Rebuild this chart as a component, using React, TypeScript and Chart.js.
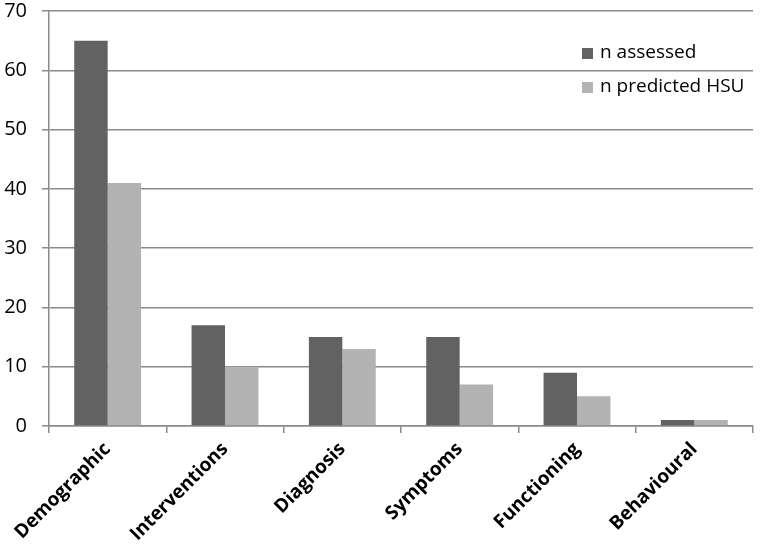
import React, { useEffect, useRef } from "react";
import { Chart, registerables } from "chart.js";

Chart.register(...registerables);

const categories = ["Demographic", "Interventions", "Diagnosis", "Symptoms", "Functioning", "Behavioural"];
const nAssessed = [65, 17, 15, 15, 9, 1];
const nPredicted = [41, 10, 13, 7, 5, 1];
const seriesNames = ["n assessed", "n predicted HSU"];
const yTicks = [0, 10, 20, 30, 40, 50, 60, 70];

const DARK = "#626262";
const LIGHT = "#b3b3b3";
const GRID = "#8a8a8a";
const FONT = "'Open Sans', 'DejaVu Sans', sans-serif";

const insideLegend = {
  id: "insideLegend",
  afterDraw(chart: any) {
    const ctx = chart.ctx;
    const area = chart.chartArea;
    const x = area.right - 171;
    const ys = [area.top + 42, area.top + 76];
    ctx.save();
    chart.data.datasets.forEach((ds: any, i: number) => {
      ctx.fillStyle = ds.backgroundColor;
      ctx.fillRect(x, ys[i] - 5, 11, 11);
      ctx.fillStyle = "#000";
      ctx.font = `19px ${FONT}`;
      ctx.textBaseline = "middle";
      ctx.textAlign = "left";
      ctx.fillText(ds.label, x + 18, ys[i]);
    });
    ctx.restore();
  },
};

export default function App() {
  const ref = useRef<HTMLCanvasElement>(null);
  useEffect(() => {
    document.body.style.margin = "0";
    const chart = new Chart(ref.current!, {
      type: "bar",
      data: {
        labels: categories,
        datasets: [
          { label: seriesNames[0], data: nAssessed, backgroundColor: DARK, barPercentage: 1, categoryPercentage: 0.57 },
          { label: seriesNames[1], data: nPredicted, backgroundColor: LIGHT, barPercentage: 1, categoryPercentage: 0.57 },
        ],
      },
      options: {
        animation: false,
        responsive: false,
        layout: { padding: { left: 4, right: 7, top: 11, bottom: 0 } },
        plugins: { legend: { display: false }, tooltip: { enabled: false } },
        scales: {
          x: {
            afterFit: (scale: any) => {
              scale.paddingLeft = 0;
              scale.paddingRight = 0;
              scale.height = 120;
            },
            grid: { display: true, drawOnChartArea: false, drawTicks: true, tickLength: 7, color: GRID, lineWidth: 1.5 },
            border: { display: true, color: GRID, width: 1.5 },
            ticks: {
              color: "#000",
              font: { family: FONT, size: 19, weight: "bold" },
              minRotation: 45,
              maxRotation: 45,
              padding: 5,
            },
          },
          y: {
            min: 0,
            max: 70,
            afterBuildTicks: (axis: any) => {
              axis.ticks = yTicks.map((v) => ({ value: v }));
            },
            afterFit: (scale: any) => {
              scale.paddingTop = 0;
              scale.paddingBottom = 0;
              scale.width = 45;
            },
            grid: { color: GRID, lineWidth: 1.5, tickLength: 7 },
            border: { display: true, color: GRID, width: 1.5 },
            ticks: { color: "#000", font: { family: FONT, size: 20 }, padding: 15 },
          },
        },
      },
      plugins: [insideLegend],
    });
    return () => chart.destroy();
  }, []);
  return (
    <div style={{ width: 760, height: 546 }}>
      <canvas ref={ref} width={760} height={546} />
    </div>
  );
}
